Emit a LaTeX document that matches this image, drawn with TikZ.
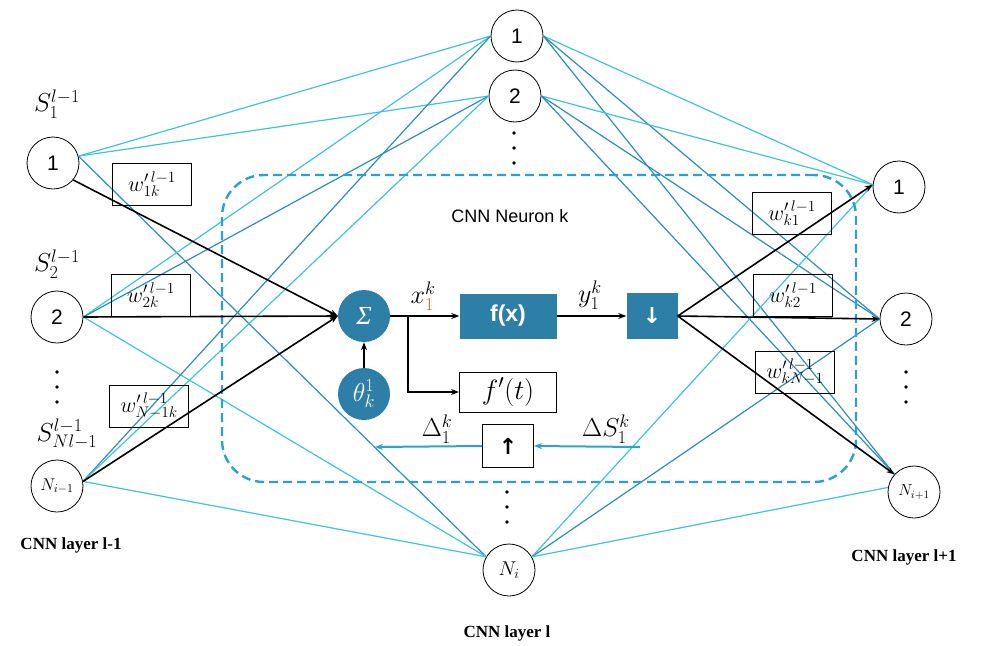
\RequirePackage{fix-cm}
\documentclass[tikz,border=0pt]{standalone}
\usepackage{fontspec}
\setmainfont{Liberation Serif}
\setsansfont{Liberation Sans}
\newfontfamily\arrowfont{DejaVu Sans}
\usetikzlibrary{arrows.meta}
\definecolor{cyanline}{HTML}{3EC3DA}
\definecolor{blueline}{HTML}{2C8DB8}
\definecolor{unitblue}{HTML}{2E7FA8}
\definecolor{dashblue}{HTML}{2A9FD8}
\definecolor{flowblue}{HTML}{2AA3D0}
\definecolor{idxorange}{HTML}{C0612B}
\newcommand{\fsz}[1]{\fontsize{#1}{#1}\selectfont}
\begin{document}
\begin{tikzpicture}[x=1pt,y=-1pt,
  neuron/.style={circle,draw,line width=0.8pt,minimum size=52pt,inner sep=0pt,
    font=\sffamily\fsz{21}},
  unit/.style={circle,fill=unitblue,minimum size=52pt,inner sep=0pt,text=white,font=\fsz{26}},
  weightbox/.style={draw,line width=0.8pt,minimum width=79pt,minimum height=42pt,
    inner sep=0pt,font=\fsz{22}},
  link/.style={line width=1.2pt},
  sig/.style={line width=1.6pt,-{Stealth[length=8pt,width=6pt]}},
  flow/.style={line width=2pt,flowblue,-{Stealth[length=8pt,width=6pt]}},
  layerlabel/.style={font=\bfseries\fsz{17}},
  mathlabel/.style={font=\fsz{26}},
  dot/.style={circle,fill=black,minimum size=3.6pt,inner sep=0pt}
]
\useasboundingbox (0,0) rectangle (981,645);

% ---- layer l-1 ----
\node[neuron] (l1) at (53,163) {1};
\node[neuron] (l2) at (57,317) {2};
\node[neuron,font=\fsz{17}] (lN) at (57,486) {$N_{i-1}$};
\node[mathlabel] (sl1) at (57,104) {$S^{l-1}_1$};
\node[mathlabel] (sl2) at (57,264) {$S^{l-1}_2$};
\node[mathlabel] (slN) at (67,434) {$S^{l-1}_{Nl-1}$};
\node[dot] (ld1) at (57,372) {};
\node[dot] (ld2) at (57,387) {};
\node[dot] (ld3) at (57,402) {};
\node[layerlabel] (lay1) at (71,545) {CNN layer l-1};

% ---- layer l ----
\node[neuron] (m1) at (517,36) {1};
\node[neuron] (m2) at (515,96) {2};
\node[neuron,font=\fsz{20}] (mN) at (509,570) {$N_i$};
\node[dot] (md1) at (514,133) {};
\node[dot] (md2) at (514,148) {};
\node[dot] (md3) at (514,163) {};
\node[dot] (md4) at (507,492) {};
\node[dot] (md5) at (507,507) {};
\node[dot] (md6) at (507,522) {};
\node[layerlabel] (lay2) at (507,633) {CNN layer l};

% ---- layer l+1 ----
\node[neuron] (r1) at (899,187) {1};
\node[neuron] (r2) at (906,319) {2};
\node[neuron,font=\fsz{16}] (rN) at (914,492) {$N_{i+1}$};
\node[dot] (rd1) at (906,372) {};
\node[dot] (rd2) at (906,387) {};
\node[dot] (rd3) at (906,402) {};
\node[layerlabel] (lay3) at (904,557) {CNN layer l+1};

% ---- full connections between the layers ----
\foreach \a/\b/\c in {
  l1.15/m1.west/cyanline, l1.15/m2.west/cyanline, l1.15/mN.150/blueline,
  l2.east/m1.west/cyanline, l2.east/m2.west/blueline, l2.east/mN.150/cyanline,
  lN.10/m1.west/blueline, lN.10/m2.west/cyanline, lN.10/mN.150/cyanline,
  m1.east/r1.175/cyanline, m1.east/r2.west/blueline, m1.east/rN.138/blueline,
  m2.east/r1.175/cyanline, m2.east/r2.west/blueline, m2.east/rN.138/blueline,
  mN.30/r1.175/cyanline, mN.30/r2.west/blueline, mN.30/rN.170/cyanline}
  \draw[link,\c] (\a) -- (\b);

% ---- neuron k ----
\node[draw=dashblue,line width=2.4pt,dash pattern=on 9pt off 5pt,rounded corners=42pt,
  minimum width=634pt,minimum height=307pt] (neuronbox) at (539,328.5) {};
\node[font=\sffamily\fsz{18}] (title) at (510,216) {CNN Neuron k};

\node[unit] (sum) at (364,316) {\itshape Σ};
\node[unit] (theta) at (364,394) {$\theta^{1}_{k}$};
\node[fill=unitblue,minimum width=97pt,minimum height=45pt,inner sep=0pt,
  text=white,font=\sffamily\bfseries\fsz{23}] (fx) at (508,316) {f(x)};
\node[fill=unitblue,minimum width=51pt,minimum height=46pt,inner sep=0pt,
  text=white,font=\arrowfont\bfseries\fsz{22}] (down) at (652,316) {↓};
\node[draw,line width=1pt,minimum width=97pt,minimum height=40pt,inner sep=0pt,
  font=\fsz{28}] (fdt) at (508,392) {$f'(t)$};
\node[draw,line width=1pt,minimum width=51pt,minimum height=43pt,inner sep=0pt,
  font=\arrowfont\bfseries\fsz{22}] (up) at (508,446) {↑};

\coordinate (branch) at (408,316);
\draw[sig] (sum.east) -- (fx.west);
\draw[sig] (branch) |- (fdt.west);
\draw[sig] (theta.north) -- (sum.south);
\draw[sig] (fx.east) -- (down.west);

\node[mathlabel] (xlab) at (423,296) {$x^{k}_{\textcolor{idxorange}{1}}$};
\node[mathlabel] (ylab) at (590,295) {$y^{k}_{1}$};
\node[mathlabel] (dlab) at (437,429) {$\Delta^{k}_{1}$};
\node[mathlabel] (dslab) at (606,429) {$\Delta S^{k}_{1}$};

\coordinate (dsin) at (640,447);
\coordinate (dout) at (375,447);
\draw[flow] (dsin) -- (up.east);
\draw[flow] (up.west) -- (dout);

% ---- weights ----
\node[weightbox] (w1) at (152,184) {$w'^{\,l-1}_{1k}$};
\node[weightbox] (w2) at (151,295) {$w'^{\,l-1}_{2k}$};
\node[weightbox] (w3) at (149,406) {$w'^{\,l-1}_{N-1k}$};
\node[weightbox] (w4) at (792,213) {$w'^{\,l-1}_{k1}$};
\node[weightbox] (w5) at (793,295) {$w'^{\,l-1}_{k2}$};
\node[weightbox] (w6) at (795,372) {$w'^{\,l-1}_{kN-1}$};

% ---- weighted inputs and outputs ----
\draw[sig] (l1.-40) -- (sum.west);
\draw[sig] (l2.east) -- (sum.west);
\draw[sig] (lN.10) -- (sum.west);
\draw[sig] (down.east) -- (r1.175);
\draw[sig] (down.east) -- (r2.west);
\draw[sig] (down.east) -- (rN.138);
\end{tikzpicture}
\end{document}
